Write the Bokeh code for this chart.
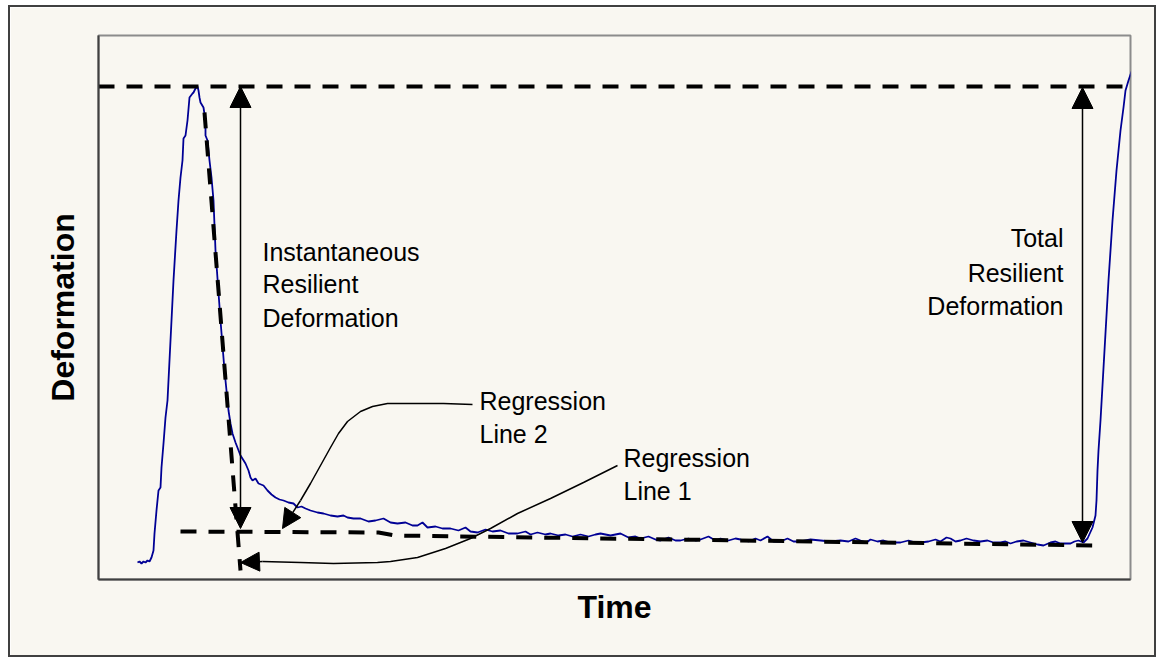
from bokeh.plotting import figure
from bokeh.models import Range1d, FixedTicker, Arrow, NormalHead
from bokeh.core.properties import value
from bokeh.embed import file_html
from bokeh.resources import INLINE

# ---- measured deformation record (time units arbitrary, deformation arbitrary) ----
time = [39, 41, 43, 45, 47, 49, 51, 53, 55, 56, 58, 60, 62, 63, 65, 67, 69, 72, 75, 78,
        80, 82, 84, 85, 87, 89, 91, 94, 95, 97, 99, 100, 101, 102, 105, 107, 107, 109, 111, 113,
        115, 117, 122, 126, 129, 130, 132, 134, 137, 142, 147, 150, 152, 154, 157, 160, 165, 169, 173, 177,
        181, 185, 190, 195, 199, 203, 207, 212, 219, 225, 232, 239, 245, 249, 255, 262, 270, 277, 285, 292,
        299, 307, 314, 319, 324, 329, 337, 344, 352, 360, 367, 372, 379, 387, 394, 402, 410, 419, 427, 432,
        439, 447, 452, 460, 467, 474, 482, 490, 497, 502, 512, 522, 530, 537, 542, 550, 557, 562, 570, 577,
        582, 590, 597, 602, 610, 617, 622, 630, 637, 642, 650, 657, 662, 669, 675, 682, 689, 695, 702, 712,
        722, 732, 742, 750, 757, 762, 768, 772, 779, 785, 792, 802, 810, 817, 822, 830, 837, 842, 848, 852,
        857, 862, 868, 875, 882, 889, 895, 902, 907, 912, 918, 925, 932, 939, 945, 952, 957, 962, 968, 972,
        976, 980, 985, 989, 994, 997, 998, 999, 1000, 1002, 1006, 1010, 1014, 1018, 1022, 1025, 1027, 1030, 1033]
deformation = [17, 18, 16, 18, 17, 19, 18, 22, 29, 46, 69, 89, 92, 112, 136, 162, 179, 239, 299, 349,
               379, 402, 419, 441, 444, 459, 482, 486, 487, 491, 493, 489, 482, 477, 472, 459, 444, 439, 419, 402,
               379, 329, 259, 209, 179, 169, 156, 146, 137, 124, 116, 109, 102, 99, 101, 96, 94, 89, 85, 82,
               80, 79, 77, 76, 72, 73, 71, 69, 67, 66, 64, 63, 64, 62, 61, 61, 58, 59, 61, 57,
               56, 57, 54, 54, 57, 52, 53, 51, 51, 49, 52, 48, 47, 50, 48, 49, 46, 46, 48, 45,
               47, 45, 46, 44, 45, 43, 45, 43, 45, 46, 44, 46, 42, 43, 41, 43, 40, 39, 42, 39,
               39, 41, 39, 40, 43, 39, 41, 39, 41, 40, 38, 41, 39, 43, 38, 38, 41, 38, 38, 40,
               39, 38, 39, 38, 41, 39, 37, 40, 38, 39, 37, 37, 39, 37, 37, 38, 40, 38, 42, 41,
               38, 39, 41, 39, 38, 39, 37, 37, 38, 36, 38, 39, 37, 35, 34, 37, 38, 36, 36, 36,
               38, 39, 37, 41, 52, 64, 79, 109, 129, 159, 229, 299, 359, 409, 449, 472, 489, 499, 508]

# peak level (dashed)
peak_t = [0, 1025]
peak_d = [493, 493]
# regression line 1 (dashed, near-horizontal)
reg1_t = [82, 280, 297, 994]
reg1_d = [48, 47, 44, 34]
# regression line 2 (dashed, steep unloading)
reg2_t = [106, 142]
reg2_d = [467, 9]

# dimension arrows
inst_arrow_t = 142
inst_arrow_d = [493, 51]
total_arrow_t = 984
total_arrow_d = [492, 37]

# callout leader lines
call2_t = [374, 345, 312, 289, 274, 262, 249, 240, 232, 222, 212, 202]
call2_d = [175, 176, 176, 176, 173, 168, 158, 146, 132, 114, 96, 79]
call2_tip = (184, 51)
call1_t = [519, 485, 452, 419, 392, 372, 347, 319, 292, 279, 235, 202, 164]
call1_d = [114, 97, 81, 66, 51, 41, 31, 22, 18, 17, 16, 17, 18]
call1_tip = (142, 17)

# annotation texts
left_text = ["Instantaneous", "Resilient", "Deformation", "Regression", "Line 2", "Regression", "Line 1"]
left_text_t = [164, 164, 164, 381, 381, 525, 525]
left_text_d = [328, 296, 262, 179, 146, 122, 89]
right_text = ["Total", "Resilient", "Deformation"]
right_text_t = [965, 965, 965]
right_text_d = [342, 307, 274]

BG = "#F9F7F1"
FONT = "Liberation Sans"

p = figure(width=1148, height=652, output_backend="svg", toolbar_location=None,
           x_range=Range1d(0, 1032), y_range=Range1d(0, 544),
           min_border_left=88, min_border_right=28, min_border_top=28, min_border_bottom=80)
p.styles = {"border": "2px solid #404040", "margin": "5px 0px 0px 8px"}
p.background_fill_color = BG
p.border_fill_color = BG
p.outline_line_color = "#8C8C8C"
p.outline_line_width = 2
p.grid.visible = False

for ax in (p.xaxis[0], p.yaxis[0]):
    ax.ticker = FixedTicker(ticks=[])
    ax.major_tick_line_color = None
    ax.minor_tick_line_color = None
    ax.major_label_text_font_size = "0px"
    ax.axis_line_color = "#404040"
    ax.axis_line_width = 2
    ax.axis_label_text_font = FONT
    ax.axis_label_text_font_style = "bold"
    ax.axis_label_text_font_size = "32px"
    ax.axis_label_text_color = "black"
p.xaxis.axis_label = "Time"
p.yaxis.axis_label = "Deformation"
p.xaxis.axis_label_standoff = 9
p.yaxis.axis_label_standoff = 18

# data curve
p.line(time, deformation, line_color="#000095", line_width=1.8)

# dashed construction lines
for tt, dd in ((peak_t, peak_d), (reg1_t, reg1_d), (reg2_t, reg2_d)):
    p.line(tt, dd, line_color="black", line_width=4, line_dash="16 12")

# dimension arrows
for t0, dd in ((inst_arrow_t, inst_arrow_d), (total_arrow_t, total_arrow_d)):
    p.add_layout(Arrow(start=NormalHead(size=21, fill_color="black", line_color="black"),
                       end=NormalHead(size=21, fill_color="black", line_color="black"),
                       x_start=t0, y_start=dd[0], x_end=t0, y_end=dd[1],
                       line_color="black", line_width=1.5))

# callouts
p.line(call2_t, call2_d, line_color="black", line_width=1.5)
p.add_layout(Arrow(end=NormalHead(size=19, fill_color="black", line_color="black"),
                   x_start=call2_t[-1], y_start=call2_d[-1], x_end=call2_tip[0], y_end=call2_tip[1],
                   line_color="black", line_width=1.5))
p.line(call1_t, call1_d, line_color="black", line_width=1.5)
p.add_layout(Arrow(end=NormalHead(size=19, fill_color="black", line_color="black"),
                   x_start=call1_t[-1], y_start=call1_d[-1], x_end=call1_tip[0], y_end=call1_tip[1],
                   line_color="black", line_width=1.5))

# texts
p.text(left_text_t, left_text_d, text=left_text, text_font=value(FONT), text_font_size="25px",
       text_color="black", text_align="left", text_baseline="alphabetic")
p.text(right_text_t, right_text_d, text=right_text, text_font=value(FONT), text_font_size="25px",
       text_color="black", text_align="right", text_baseline="alphabetic")

open("out.html", "w").write(file_html(p, INLINE))
